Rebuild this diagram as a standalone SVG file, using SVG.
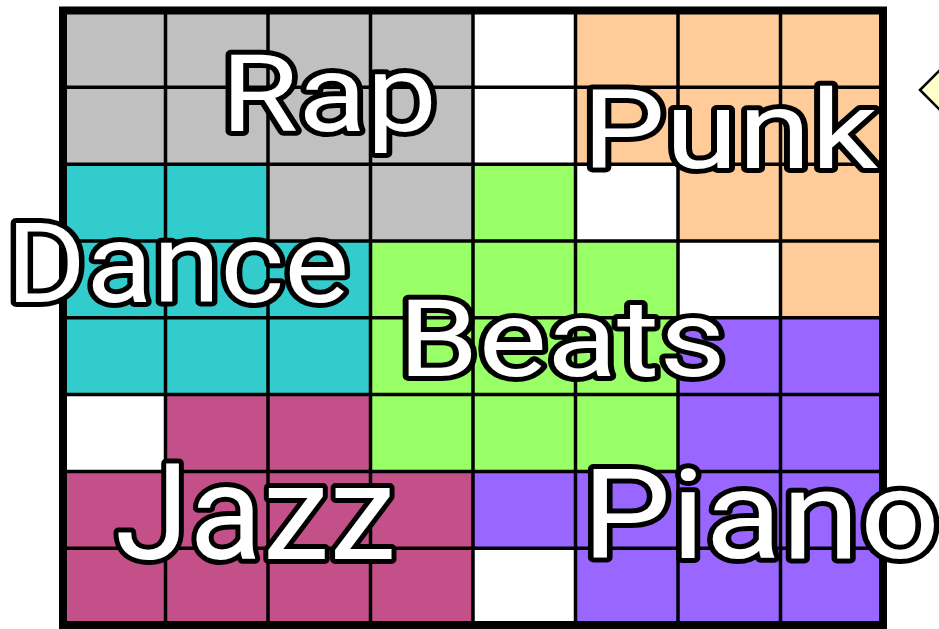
<svg xmlns="http://www.w3.org/2000/svg" width="939" height="629" viewBox="0 0 939 629">
  <style>
    .grid { fill: none; stroke: #000; stroke-width: 3.5; }
    .border { fill: none; stroke: #000; stroke-width: 8; }
    .lbl { font-family: Roboto, "Liberation Sans", sans-serif; fill: #fff; stroke: #000; stroke-width: 10; stroke-linejoin: round; paint-order: stroke; }
  </style>
  <rect x="0" y="0" width="939" height="629" fill="#fff"/>
  <g id="regions">
    <polygon id="rap-area" fill="#c0c0c0" points="63,10.5 473,10.5 473,240.94 268,240.94 268,164.13 63,164.13"/>
    <polygon id="punk-area" fill="#ffcc99" points="575.5,10.5 883,10.5 883,317.75 780.5,317.75 780.5,240.94 678,240.94 678,164.13 575.5,164.13"/>
    <polygon id="dance-area" fill="#33cccc" points="63,164.13 268,164.13 268,240.94 370.5,240.94 370.5,394.56 63,394.56"/>
    <polygon id="beats-area" fill="#99ff66" points="473,164.13 575.5,164.13 575.5,240.94 678,240.94 678,471.38 370.5,471.38 370.5,240.94 473,240.94"/>
    <polygon id="piano-area" fill="#9966ff" points="678,317.75 883,317.75 883,625 575.5,625 575.5,548.19 473,548.19 473,471.38 678,471.38"/>
    <polygon id="jazz-area" fill="#c45089" points="165.5,394.56 370.5,394.56 370.5,471.38 473,471.38 473,625 63,625 63,471.38 165.5,471.38"/>
  </g>
  <g id="gridlines">
    <path class="grid" d="M165.5,10.5V625M268,10.5V625M370.5,10.5V625M473,10.5V625M575.5,10.5V625M678,10.5V625M780.5,10.5V625M63,87.31H883M63,164.13H883M63,240.94H883M63,317.75H883M63,394.56H883M63,471.38H883M63,548.19H883"/>
    <rect class="border" x="63" y="10.5" width="820" height="614.5"/>
  </g>
  <g id="pointer">
    <polygon points="920,90 945,65 945,115" fill="#ffffcc" stroke="#000" stroke-width="2.5"/>
  </g>
  <g id="rap"><text class="lbl" x="221" y="131" font-size="108" textLength="216" lengthAdjust="spacingAndGlyphs">Rap</text></g>
  <g id="punk"><text class="lbl" x="582" y="168" font-size="110" textLength="296" lengthAdjust="spacingAndGlyphs">Punk</text></g>
  <g id="dance"><text class="lbl" x="6" y="302" font-size="112" textLength="343" lengthAdjust="spacingAndGlyphs">Dance</text></g>
  <g id="beats"><text class="lbl" x="398" y="376" font-size="108" textLength="328" lengthAdjust="spacingAndGlyphs">Beats</text></g>
  <g id="jazz"><text class="lbl" x="115" y="559" font-size="134" textLength="281" lengthAdjust="spacingAndGlyphs">Jazz</text></g>
  <g id="piano"><text class="lbl" x="582" y="558" font-size="124" textLength="358" lengthAdjust="spacingAndGlyphs">Piano</text></g>
</svg>
